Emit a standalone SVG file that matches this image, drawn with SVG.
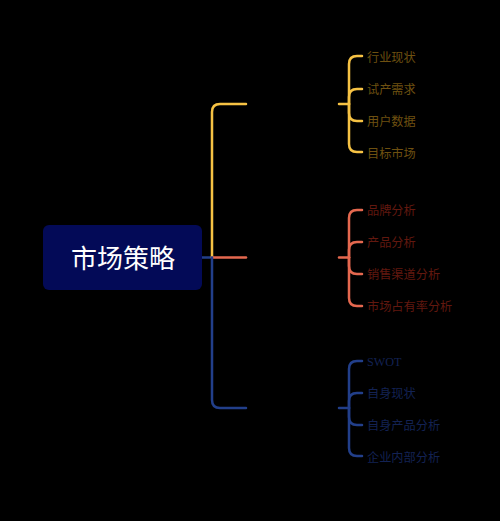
<svg xmlns="http://www.w3.org/2000/svg" width="500" height="521" viewBox="0 0 500 521">
<style>
.ln{fill:none;stroke-width:2.5;stroke-linecap:round}
.y{stroke:#f6c244}
.r{stroke:#e5684f}
.b{stroke:#223f8a}
.t{font-family:"Liberation Serif","Noto Sans CJK SC",serif;font-size:12.2px}
.ty{fill:#6e5010}
.tr{fill:#62180f}
.tb{fill:#132253}
</style>
<rect width="500" height="521" fill="#000"/>
<g id="connectors">
<path class="ln b" d="M202,257.5 L212,257.5"/>
<path class="ln y" d="M212,257.5 L212,112 Q212,104 220,104 L246,104"/>
<path class="ln r" d="M212,257.5 L246,257.5"/>
<path class="ln b" d="M212,257.5 L212,400 Q212,408 220,408 L246,408"/>
<path class="ln y" d="M339,104 L349,104"/>
<path class="ln y" d="M349,104 L349,64 Q349,56 357,56 L362,56"/>
<path class="ln y" d="M349,104 L349,97 Q349,89 357,89 L362,89"/>
<path class="ln y" d="M349,104 L349,113 Q349,121 357,121 L362,121"/>
<path class="ln y" d="M349,104 L349,144 Q349,152 357,152 L362,152"/>
<path class="ln r" d="M339,257.5 L349,257.5"/>
<path class="ln r" d="M349,257.5 L349,218 Q349,210 357,210 L362,210"/>
<path class="ln r" d="M349,257.5 L349,250 Q349,242 357,242 L362,242"/>
<path class="ln r" d="M349,257.5 L349,266 Q349,274 357,274 L362,274"/>
<path class="ln r" d="M349,257.5 L349,298 Q349,306 357,306 L362,306"/>
<path class="ln b" d="M339,408 L349,408"/>
<path class="ln b" d="M349,408 L349,369 Q349,361 357,361 L362,361"/>
<path class="ln b" d="M349,408 L349,401 Q349,393 357,393 L362,393"/>
<path class="ln b" d="M349,408 L349,417 Q349,425 357,425 L362,425"/>
<path class="ln b" d="M349,408 L349,448 Q349,456 357,456 L362,456"/>
</g>
<g id="root">
<rect x="43" y="225" width="159" height="65" rx="6" fill="#030a57"/>
<text x="123" y="268" text-anchor="middle" font-family="'Noto Sans CJK SC',sans-serif" font-size="26" fill="#fff">市场策略</text>
</g>
<g id="n1"><text class="t ty" x="367" y="61.5">行业现状</text></g>
<g id="n2"><text class="t ty" x="367" y="93.5">试产需求</text></g>
<g id="n3"><text class="t ty" x="367" y="125.5">用户数据</text></g>
<g id="n4"><text class="t ty" x="367" y="157.5">目标市场</text></g>
<g id="n5"><text class="t tr" x="367" y="214.5">品牌分析</text></g>
<g id="n6"><text class="t tr" x="367" y="246.5">产品分析</text></g>
<g id="n7"><text class="t tr" x="367" y="278.5">销售渠道分析</text></g>
<g id="n8"><text class="t tr" x="367" y="310.5">市场占有率分析</text></g>
<g id="n9"><text class="t tb" x="367" y="366">SWOT</text></g>
<g id="n10"><text class="t tb" x="367" y="397.5">自身现状</text></g>
<g id="n11"><text class="t tb" x="367" y="429.5">自身产品分析</text></g>
<g id="n12"><text class="t tb" x="367" y="461.5">企业内部分析</text></g>
</svg>
